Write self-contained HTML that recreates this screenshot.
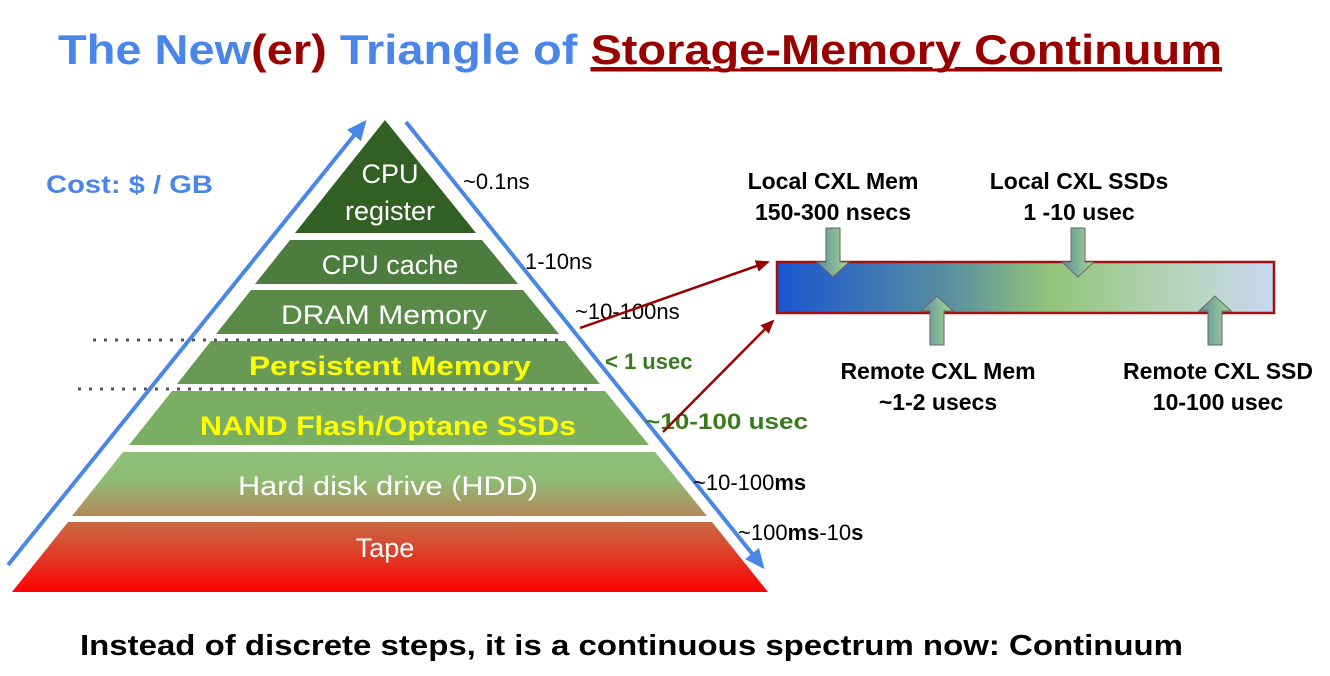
<!DOCTYPE html>
<html><head><meta charset="utf-8"><style>
html,body{margin:0;padding:0;background:#fff;}
svg{display:block;font-family:"Liberation Sans",sans-serif;}
</style></head><body>
<svg width="1330" height="676" viewBox="0 0 1330 676">
<defs>
<linearGradient id="hdd" x1="0" y1="0" x2="0" y2="1"><stop offset="0" stop-color="#8fc07a"/><stop offset="0.45" stop-color="#8fbb74"/><stop offset="1" stop-color="#b5875a"/></linearGradient>
<linearGradient id="tape" x1="0" y1="0" x2="0" y2="1"><stop offset="0" stop-color="#c96a45"/><stop offset="0.5" stop-color="#e03a25"/><stop offset="1" stop-color="#ff0000"/></linearGradient>
<linearGradient id="bar" x1="0" y1="0" x2="1" y2="0"><stop offset="0" stop-color="#1a55d0"/><stop offset="0.35" stop-color="#5a90a0"/><stop offset="0.55" stop-color="#92c47a"/><stop offset="0.8" stop-color="#b5d4b8"/><stop offset="1" stop-color="#c8d8f0"/></linearGradient>
<linearGradient id="arr" x1="0" y1="0" x2="1" y2="0"><stop offset="0" stop-color="#5a8fa0"/><stop offset="1" stop-color="#a8d890"/></linearGradient>
<marker id="bh" markerWidth="20" markerHeight="18" refX="16" refY="9" orient="auto" markerUnits="userSpaceOnUse"><path d="M0,0 L20,9 L0,18 z" fill="#4a86e8"/></marker>
<marker id="rh" markerWidth="14" markerHeight="12" refX="12" refY="6" orient="auto" markerUnits="userSpaceOnUse"><path d="M0,0 L14,6 L0,12 z" fill="#990000"/></marker>
</defs>

<text x="58" y="64" font-size="42" font-weight="bold" textLength="1164" lengthAdjust="spacingAndGlyphs"><tspan fill="#4a86e8">The New</tspan><tspan fill="#990000">(er)</tspan><tspan fill="#4a86e8"> Triangle of </tspan><tspan fill="#990000" text-decoration="underline">Storage-Memory Continuum</tspan></text>
<line x1="591" y1="70" x2="1222" y2="70" stroke="#990000" stroke-width="3"/>

<text x="46" y="193" font-size="25" font-weight="bold" fill="#4a86e8" textLength="167" lengthAdjust="spacingAndGlyphs">Cost: $ / GB</text>

<polygon points="385,120 476,233 295,233" fill="#325f24"/>
<polygon points="290,240 482,240 518,284 255,284" fill="#4d7d3e"/>
<polygon points="251,290 523,290 559,334 216,334" fill="#5a8a48"/>
<polygon points="211,341 565,341 600,384 177,384" fill="#689a55"/>
<polygon points="172,391 605,391 649,445 129,445" fill="#7aae63"/>
<polygon points="123,452 655,452 707,516 72,516" fill="url(#hdd)"/>
<polygon points="68,522 712,522 768,592 12,592" fill="url(#tape)"/>

<g font-size="27" fill="#fff" text-anchor="middle">
<text x="390" y="183">CPU</text>
<text x="390" y="220">register</text>
<text x="390" y="274">CPU cache</text>
<text x="384" y="324" textLength="206" lengthAdjust="spacingAndGlyphs">DRAM Memory</text>
<text x="388" y="495" textLength="300" lengthAdjust="spacingAndGlyphs">Hard disk drive (HDD)</text>
<text x="385" y="557">Tape</text>
</g>
<text x="390" y="375" font-size="27" font-weight="bold" fill="#ffff00" text-anchor="middle" textLength="282" lengthAdjust="spacingAndGlyphs">Persistent Memory</text>
<text x="388" y="435" font-size="27" font-weight="bold" fill="#ffff00" text-anchor="middle" textLength="376" lengthAdjust="spacingAndGlyphs">NAND Flash/Optane SSDs</text>

<line x1="93" y1="340" x2="560" y2="340" stroke="#555" stroke-width="3" stroke-dasharray="3,8"/>
<line x1="78" y1="389" x2="595" y2="389" stroke="#555" stroke-width="3" stroke-dasharray="3,8"/>

<line x1="8" y1="565" x2="364" y2="123" stroke="#4a86e8" stroke-width="4" marker-end="url(#bh)"/>
<line x1="406" y1="122" x2="762" y2="566" stroke="#4a86e8" stroke-width="4" marker-end="url(#bh)"/>

<text x="463" y="189" font-size="22" fill="#000">~0.1ns</text>
<text x="525" y="269" font-size="22" fill="#000">1-10ns</text>
<text x="575" y="319" font-size="22" fill="#000">~10-100ns</text>
<text x="605" y="369" font-size="22" font-weight="bold" fill="#3a7a1e">&lt; 1 usec</text>
<text x="645" y="429" font-size="22" font-weight="bold" fill="#3a7a1e" textLength="163" lengthAdjust="spacingAndGlyphs">~10-100 usec</text>
<text x="693" y="490" font-size="22" fill="#000">~10-100<tspan font-weight="bold">ms</tspan></text>
<text x="738" y="540" font-size="22" fill="#000">~100<tspan font-weight="bold">ms</tspan>-10<tspan font-weight="bold">s</tspan></text>

<line x1="580" y1="328" x2="768" y2="262" stroke="#990000" stroke-width="2.5" marker-end="url(#rh)"/>
<line x1="663" y1="432" x2="773" y2="321" stroke="#990000" stroke-width="2.5" marker-end="url(#rh)"/>

<rect x="777" y="262" width="497" height="51" fill="url(#bar)" stroke="#a01010" stroke-width="2.5"/>

<g stroke="#666" stroke-width="1" fill="url(#arr)">
<polygon points="826,228 840,228 840,262 849,262 833,277 817,262 826,262"/>
<polygon points="1071,228 1085,228 1085,262 1094,262 1078,277 1062,262 1071,262"/>
<polygon points="930,345 944,345 944,311 953,311 937,296 921,311 930,311"/>
<polygon points="1208,345 1222,345 1222,311 1231,311 1215,296 1199,311 1208,311"/>
</g>

<g font-size="23" font-weight="bold" fill="#000" text-anchor="middle">
<text x="833" y="189">Local CXL Mem</text>
<text x="833" y="220">150-300 nsecs</text>
<text x="1079" y="189">Local CXL SSDs</text>
<text x="1079" y="220">1 -10 usec</text>
<text x="938" y="379">Remote CXL Mem</text>
<text x="938" y="410">~1-2 usecs</text>
<text x="1218" y="379">Remote CXL SSD</text>
<text x="1218" y="410">10-100 usec</text>
</g>

<text x="80" y="655" font-size="29" font-weight="bold" fill="#000" textLength="1103" lengthAdjust="spacingAndGlyphs">Instead of discrete steps, it is a continuous spectrum now: Continuum</text>
</svg>
</body></html>
